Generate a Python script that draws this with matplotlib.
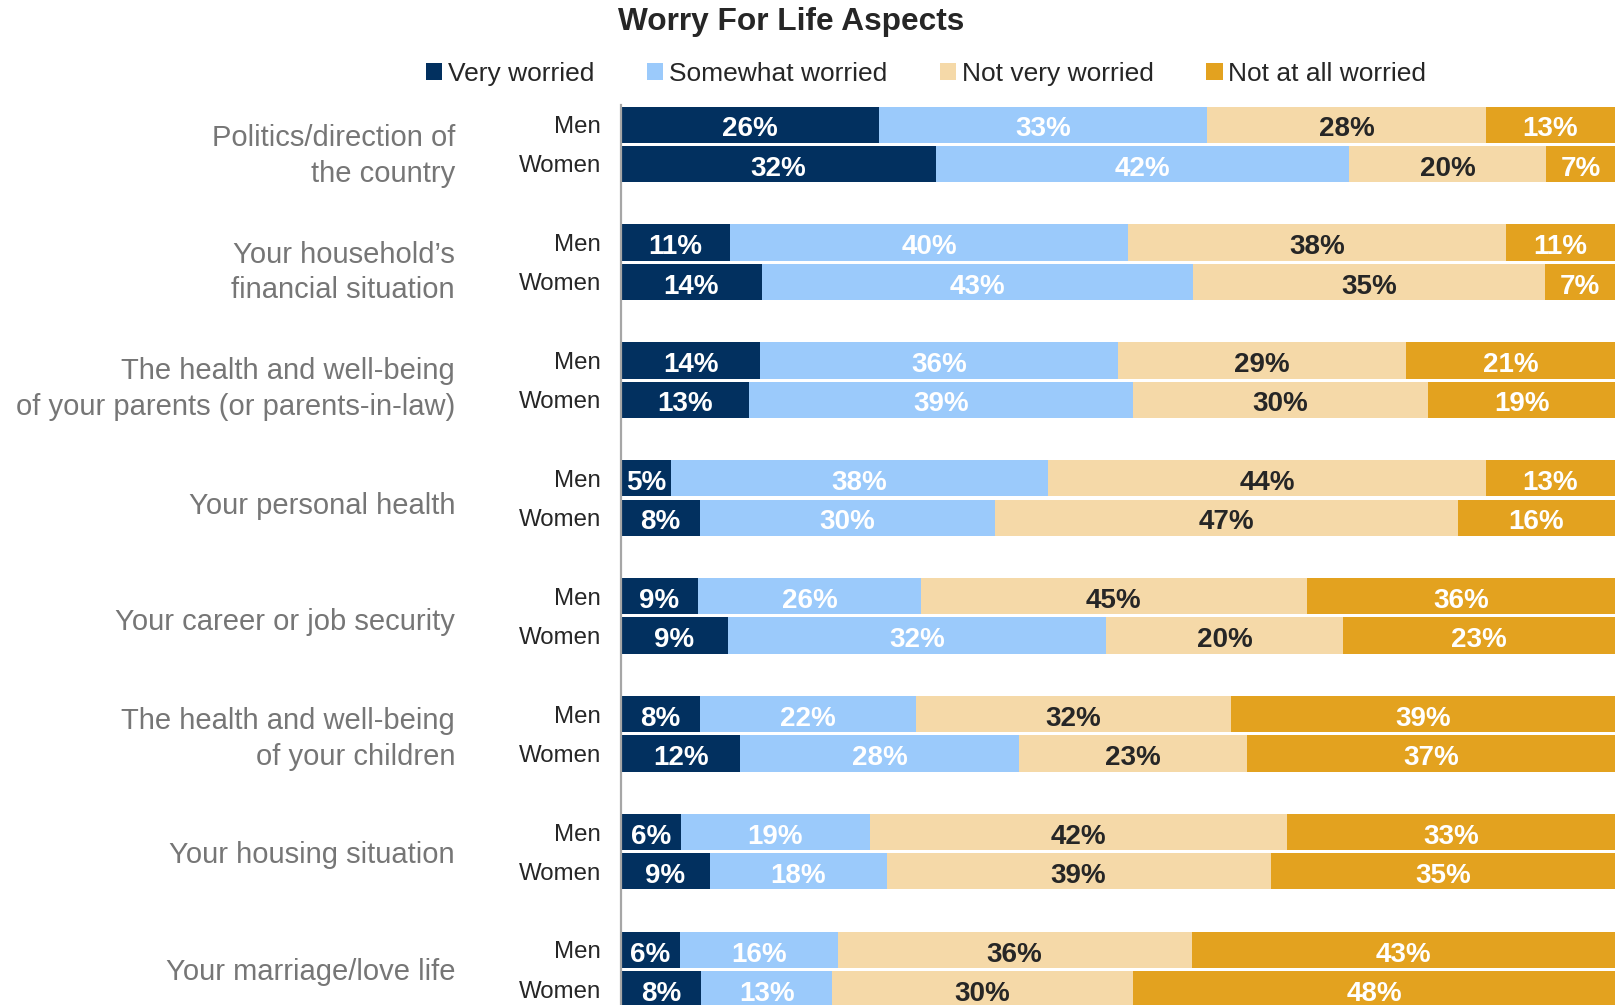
import matplotlib
matplotlib.use("Agg")
import matplotlib.pyplot as plt
from matplotlib.patches import Patch
import numpy as np

plt.rcParams['font.family'] = ['Liberation Sans', 'DejaVu Sans']

categories = [
    "Politics/direction of\nthe country",
    "Your household\u2019s\nfinancial situation",
    "The health and well-being\nof your parents (or parents-in-law)",
    "Your personal health",
    "Your career or job security",
    "The health and well-being\nof your children",
    "Your housing situation",
    "Your marriage/love life",
]
genders = ["Men", "Women"]
series = ["Very worried", "Somewhat worried", "Not very worried", "Not at all worried"]

very_men = [26, 11, 14, 5, 9, 8, 6, 6]
very_women = [32, 14, 13, 8, 9, 12, 9, 8]
somewhat_men = [33, 40, 36, 38, 26, 22, 19, 16]
somewhat_women = [42, 43, 39, 30, 32, 28, 18, 13]
notvery_men = [28, 38, 29, 44, 45, 32, 42, 36]
notvery_women = [20, 35, 30, 47, 20, 23, 39, 30]
notatall_men = [13, 11, 21, 13, 36, 39, 33, 43]
notatall_women = [7, 7, 19, 16, 23, 37, 35, 48]

colors = ["#02305F", "#9BCAFB", "#F5D9A8", "#E3A21F"]
label_colors = ["white", "white", "#262626", "white"]

men = np.array([very_men, somewhat_men, notvery_men, notatall_men], dtype=float)
women = np.array([very_women, somewhat_women, notvery_women, notatall_women], dtype=float)

fig = plt.figure(figsize=(16.2, 10.05), dpi=100)
ax = fig.add_axes([621 / 1620, 0.0, (1615 - 621) / 1620, (1005 - 105) / 1005])

bar_h = 0.92
for gi, data in enumerate([men, women]):
    ypos = np.arange(len(categories)) * 3 + gi
    totals = data.sum(axis=0)
    shares = data / totals * 100
    left = np.zeros(len(categories))
    for si in range(len(series)):
        ax.barh(ypos, shares[si], left=left, height=bar_h, color=colors[si],
                edgecolor='none', label=series[si] if gi == 0 else None)
        for yi, (l, w, v) in enumerate(zip(left, shares[si], data[si])):
            ax.text(l + w / 2, ypos[yi] + 0.12, f"{int(v)}%", ha='center', va='center',
                    color=label_colors[si], fontsize=20, fontweight='bold')
        left = left + shares[si]

yt = []
ytl = []
for i in range(len(categories)):
    yt += [3 * i, 3 * i + 1]
    ytl += genders
ax.set_yticks(yt)
ax.set_yticklabels(ytl, fontsize=17.3, color='#262626')
ax.tick_params(axis='y', length=0, pad=14.5)
ax.set_xticks([])
ax.set_xlim(0, 100)
ax.set_ylim(22.4, -0.5)
for s in ['top', 'right', 'bottom']:
    ax.spines[s].set_visible(False)
ax.spines['left'].set_color('#A6A6A6')
ax.spines['left'].set_linewidth(1.6)

trans = matplotlib.transforms.blended_transform_factory(fig.transFigure, ax.transData)
for i, c in enumerate(categories):
    ax.text(455 / 1620, 0.8 + 2.965 * i, c, transform=trans, ha='right', va='center',
            fontsize=21, color='#767676', linespacing=1.35)

fig.text(791 / 1620, 1 - 22 / 1005, "Worry For Life Aspects", ha='center', va='center',
         fontsize=22.8, fontweight='bold', color='#262626')

handles = [Patch(facecolor=c, edgecolor='none') for c in colors]
fig.legend(handles, series, loc='center', bbox_to_anchor=(926 / 1620, 1 - 74 / 1005),
           ncol=4, frameon=False, fontsize=19, handlelength=0.63, handleheight=0.63,
           handletextpad=0.2, columnspacing=2.0, labelcolor='#262626', borderaxespad=0)

fig.savefig("out.png", dpi=100)
